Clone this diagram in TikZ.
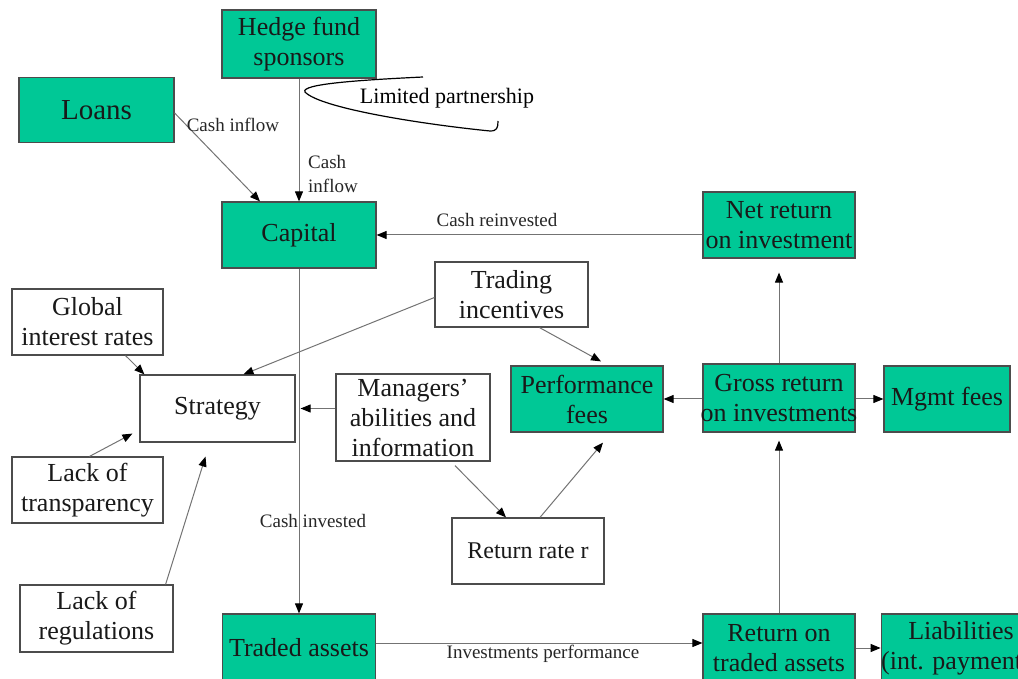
\documentclass[tikz,border=0pt]{standalone}
\usepackage{fontspec}
\setmainfont{Liberation Serif}
\usetikzlibrary{arrows.meta,calc}
\definecolor{tealgreen}{HTML}{00C896}
\begin{document}
\begin{tikzpicture}[x=0.5pt,y=-0.5pt,
  base/.style={draw=black!70, line width=0.6pt, align=center, inner sep=0pt,
    font=\fontsize{13}{15}\selectfont, text=black!90},
  gbox/.style={base, fill=tealgreen},
  wbox/.style={base, fill=white},
  conn/.style={draw=black!55, line width=0.5pt, -{Triangle[length=5pt,width=4pt,color=black]}},
  lbl/.style={font=\fontsize{9.5}{11}\selectfont, inner sep=0pt, text=black!85},
  sz/.style 2 args={minimum width=#1pt, minimum height=#2pt}]
\useasboundingbox (0,0) rectangle (1018,679);
\clip (0,0) rectangle (1018,679);

% nodes
\node[gbox, sz={77}{34}] (hedge) at (299,44) {Hedge fund\\sponsors};
\node[gbox, sz={77.5}{32.5}, font=\fontsize{14.5}{16}\selectfont] (loans) at (96.5,110) {Loans};
\node[gbox, sz={77}{33}] (capital) at (299,235) {Capital};
\node[gbox, sz={76}{33}] (net) at (779,225) {Net return\\on investment};
\node[wbox, sz={76.5}{32.5}] (trading) at (511.5,294.5) {Trading\\incentives};
\node[wbox, sz={75.5}{33}] (global) at (87.5,322) {Global\\interest rates};
\node[wbox, sz={77.5}{33.5}] (strategy) at (217.5,408.5) {Strategy};
\node[wbox, sz={77}{43.5}] (managers) at (413,417.5) {Managers'\\abilities and\\information};
\node[gbox, sz={76}{33}] (perf) at (587,399) {Performance\\fees};
\node[gbox, sz={76}{34}] (gross) at (779,398) {Gross return\\\makebox[0pt]{on investments}};
\node[gbox, sz={63}{33}] (mgmt) at (947,399) {Mgmt fees};
\node[wbox, sz={75.5}{33}] (lackt) at (87.5,490) {Lack of\\transparency};
\node[wbox, sz={76}{33}, font=\fontsize{12}{15}\selectfont] (retr) at (528,551) {Return rate r};
\node[wbox, sz={76.5}{33.5}] (lackr) at (96.5,618.5) {Lack of\\regulations};
\node[gbox, sz={76.5}{34}] (traded) at (299,648) {Traded assets};
\node[gbox, sz={76}{34}] (rot) at (779,648) {Return on\\traded assets};
\node[gbox, sz={76}{34}] (liab) at (961,648) {Liabilities\\(int. payments)};

% connectors
\draw[conn] (hedge.south) -- (capital.north);
\draw[conn] ($(loans.east)+(0,3)$) -- ($(capital.north)+(-39,0)$);
\draw[conn] (net.west |- capital.east) -- (capital.east);
\draw[conn] (capital.south) -- (traded.north);
\draw[conn] ($(global.south)!0.5!(global.south east)$) -- ($(strategy.north west)+(5,0)$);
\draw[conn] ($(trading.west)+(0,3)$) -- ($(strategy.north)+(26,0)$);
\draw[conn] ($(trading.south)+(28,0)$) -- ($(perf.north)+(14,-4)$);
\draw[conn] (managers.west |- strategy.east) -- ($(strategy.east)+(5,0)$);
\draw[conn] ($(lackt.north)+(2,0)$) -- ($(strategy.south west)+(-7,-9)$);
\draw[conn] ($(lackr.north east)+(-8,0)$) -- ($(strategy.south)+(-12,14)$);
\draw[conn] ($(managers.south)+(42,4)$) -- ($(retr.north)+(-22,0)$);
\draw[conn] ($(retr.north)+(12,0)$) -- ($(perf.south)+(16,10)$);
\draw[conn] (gross.west |- perf.east) -- (perf.east);
\draw[conn] (gross.east |- mgmt.west) -- (mgmt.west);
\draw[conn, shorten >=7pt] (gross.north) -- (net.south);
\draw[conn, shorten >=4pt] (rot.north) -- (gross.south);
\draw[conn] ($(traded.east)+(0,-5)$) -- ($(rot.west)+(0,-5)$);
\draw[conn] (rot.east) -- (liab.west);

% limited partnership curve
\draw[black, line width=0.6pt] (423,77) .. controls (360,80) and (300,84) .. (305,92)
  .. controls (320,108) and (420,124) .. (490,131)
  .. controls (497,131) and (498,128) .. (498,121);

% labels
\node[lbl] (l1) at (233,125) {Cash inflow};
\node[lbl, align=left] (l2) at (333,174) {Cash\\[1pt]inflow};
\node[lbl] (l3) at (497,220) {Cash reinvested};
\node[lbl] (l4) at (313,521) {Cash invested};
\node[lbl] (l5) at (543,654) {Investments performance};
\node[font=\fontsize{11}{13}\selectfont, inner sep=0pt] (l6) at (447,98) {Limited partnership};
\end{tikzpicture}
\end{document}
